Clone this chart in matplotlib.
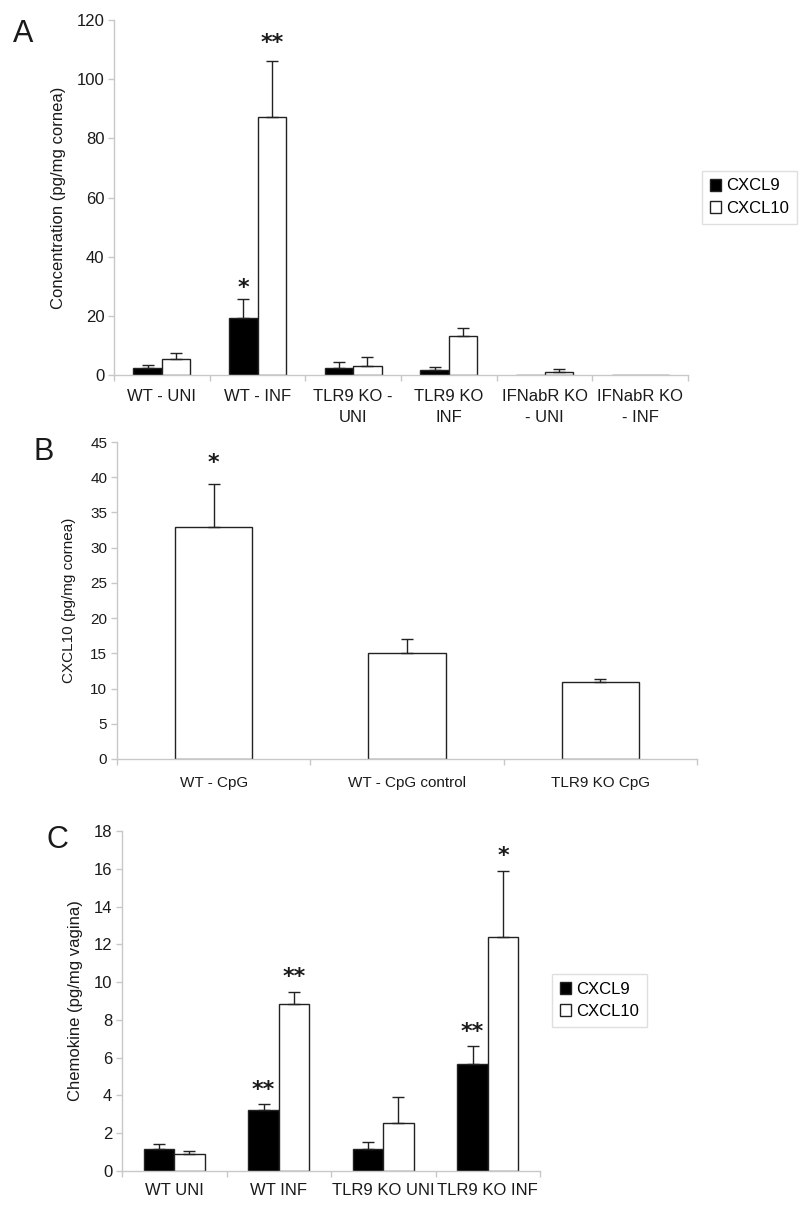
import matplotlib
matplotlib.use("Agg")
import matplotlib.pyplot as plt
import numpy as np
from matplotlib import font_manager

names = {f.name for f in font_manager.fontManager.ttflist}
MAIN = 'Liberation Sans' if 'Liberation Sans' in names else 'DejaVu Sans'
NARROW = 'Liberation Sans Narrow' if 'Liberation Sans Narrow' in names else MAIN
plt.rcParams['font.family'] = [MAIN, 'DejaVu Sans']

# ---------------- data ----------------
a_categories = ["WT - UNI", "WT - INF", "TLR9 KO -\nUNI", "TLR9 KO\nINF", "IFNabR KO\n- UNI", "IFNabR KO\n- INF"]
a_cxcl9 = [2.2, 19.2, 2.5, 1.7, 0.0, 0.0]
a_cxcl9_err = [1.2, 6.4, 1.8, 1.1, 0.0, 0.0]
a_cxcl10 = [5.4, 87.3, 3.0, 13.2, 0.9, 0.0]
a_cxcl10_err = [2.1, 18.8, 3.2, 2.8, 1.1, 0.0]
a_stars9 = ["", "*", "", "", "", ""]
a_stars10 = ["", "**", "", "", "", ""]
a_yticks = [0, 20, 40, 60, 80, 100, 120]

b_categories = ["WT - CpG", "WT - CpG control", "TLR9 KO CpG"]
b_cxcl10 = [33.0, 15.0, 11.0]
b_cxcl10_err = [6.0, 2.0, 0.4]
b_stars = ["*", "", ""]
b_yticks = [0, 5, 10, 15, 20, 25, 30, 35, 40, 45]

c_categories = ["WT UNI", "WT INF", "TLR9 KO UNI", "TLR9 KO INF"]
c_cxcl9 = [1.16, 3.23, 1.16, 5.65]
c_cxcl9_err = [0.25, 0.30, 0.36, 0.98]
c_cxcl10 = [0.88, 8.82, 2.52, 12.4]
c_cxcl10_err = [0.18, 0.68, 1.41, 3.5]
c_stars9 = ["", "**", "", "**"]
c_stars10 = ["", "**", "", "*"]
c_yticks = [0, 2, 4, 6, 8, 10, 12, 14, 16, 18]

series_names = ["CXCL9", "CXCL10"]

W, H = 800, 1211
fig = plt.figure(figsize=(W / 100, H / 100), dpi=100)

AXC = '#c8c8c8'
EDGE = '#222222'
TXT = '#1a1a1a'


def ax_rect(l, r, t, b):
    return [l / W, 1 - b / H, (r - l) / W, (b - t) / H]


def style_axes(ax, n, yticks, fs, family):
    for s in ['top', 'right']:
        ax.spines[s].set_visible(False)
    for s in ['left', 'bottom']:
        ax.spines[s].set_color(AXC)
        ax.spines[s].set_linewidth(1.0)
    ax.set_xlim(-0.5, n - 0.5)
    ax.set_ylim(yticks[0], yticks[-1])
    ax.set_yticks(yticks)
    ax.set_yticklabels([str(v) for v in yticks], fontsize=fs, color=TXT, family=family)
    ax.tick_params(axis='y', length=4, color=AXC, width=1, pad=3)
    ax.set_xticks(np.arange(n + 1) - 0.5, minor=False)
    ax.set_xticklabels([''] * (n + 1))
    ax.tick_params(axis='x', length=4, color=AXC, width=1)


def star(ax, x, y, s, fs, dy=3):
    if s:
        ax.annotate(s, (x, y), xytext=(0, dy), textcoords='offset points',
                    ha='center', va='bottom', fontsize=fs, color=TXT,
                    family='DejaVu Sans', weight='bold')


def err(ax, x, v, e, capw):
    if e > 0:
        ax.errorbar([x], [v], yerr=[[0], [e]], fmt='none', ecolor=EDGE,
                    elinewidth=1, capsize=capw, capthick=1)


# ---------------- Panel A ----------------
axA = fig.add_axes(ax_rect(114, 688, 20, 375))
nA = len(a_categories)
xA = np.arange(nA)
bw = 0.297
style_axes(axA, nA, a_yticks, 12, MAIN)
axA.bar(xA - bw / 2, a_cxcl9, bw, color='black', edgecolor=EDGE, linewidth=1, label=series_names[0], zorder=2)
axA.bar(xA + bw / 2, a_cxcl10, bw, color='white', edgecolor=EDGE, linewidth=1, label=series_names[1], zorder=2)
for i in range(nA):
    err(axA, xA[i] - bw / 2, a_cxcl9[i], a_cxcl9_err[i], 4)
    err(axA, xA[i] + bw / 2, a_cxcl10[i], a_cxcl10_err[i], 4)
    star(axA, xA[i] - bw / 2, a_cxcl9[i] + a_cxcl9_err[i], a_stars9[i], 16, 1)
    star(axA, xA[i] + bw / 2, a_cxcl10[i] + a_cxcl10_err[i], a_stars10[i], 16, 6)
for i, lab in enumerate(a_categories):
    axA.text(xA[i], -0.04, lab, transform=axA.get_xaxis_transform(), ha='center', va='top',
             fontsize=12, color=TXT, linespacing=1.45)
axA.set_ylabel("Concentration (pg/mg cornea)", fontsize=12, color=TXT)
axA.yaxis.set_label_coords(-0.083, 0.50)
legA = fig.legend(*axA.get_legend_handles_labels(), loc='upper left',
                  bbox_to_anchor=(702 / W, 1 - 171 / H), fontsize=12, frameon=True,
                  fancybox=False, edgecolor='#d8d8d8', handlelength=0.7, handleheight=0.7,
                  handletextpad=0.3, borderpad=0.45, labelspacing=0.45, borderaxespad=0)
legA.get_frame().set_linewidth(1)
fig.text(23 / W, 1 - 34 / H, "A", fontsize=22, ha='center', va='center', color=TXT)

# ---------------- Panel B ----------------
axB = fig.add_axes(ax_rect(117, 697, 442, 759))
nB = len(b_categories)
xB = np.arange(nB)
style_axes(axB, nB, b_yticks, 11, NARROW)
axB.bar(xB, b_cxcl10, 0.4, color='white', edgecolor=EDGE, linewidth=1, zorder=2)
for i in range(nB):
    err(axB, xB[i], b_cxcl10[i], b_cxcl10_err[i], 4)
    star(axB, xB[i], b_cxcl10[i] + b_cxcl10_err[i], b_stars[i], 16, 8)
for i, lab in enumerate(b_categories):
    axB.text(xB[i], -0.055, lab, transform=axB.get_xaxis_transform(), ha='center', va='top',
             fontsize=11, color=TXT, family=NARROW)
axB.set_ylabel("CXCL10 (pg/mg cornea)", fontsize=11, color=TXT, family=NARROW)
axB.yaxis.set_label_coords(-0.07, 0.50)
fig.text(44 / W, 1 - 452 / H, "B", fontsize=22, ha='center', va='center', color=TXT)

# ---------------- Panel C ----------------
axC = fig.add_axes(ax_rect(122, 540, 831, 1171))
nC = len(c_categories)
xC = np.arange(nC)
bwc = 0.29
style_axes(axC, nC, c_yticks, 12, MAIN)
axC.bar(xC - bwc / 2, c_cxcl9, bwc, color='black', edgecolor=EDGE, linewidth=1, label=series_names[0], zorder=2)
axC.bar(xC + bwc / 2, c_cxcl10, bwc, color='white', edgecolor=EDGE, linewidth=1, label=series_names[1], zorder=2)
for i in range(nC):
    err(axC, xC[i] - bwc / 2, c_cxcl9[i], c_cxcl9_err[i], 4)
    err(axC, xC[i] + bwc / 2, c_cxcl10[i], c_cxcl10_err[i], 4)
    star(axC, xC[i] - bwc / 2, c_cxcl9[i] + c_cxcl9_err[i], c_stars9[i], 16, 3)
    star(axC, xC[i] + bwc / 2, c_cxcl10[i] + c_cxcl10_err[i], c_stars10[i], 16, 3)
for i, lab in enumerate(c_categories):
    axC.text(xC[i], -0.035, lab, transform=axC.get_xaxis_transform(), ha='center', va='top',
             fontsize=12, color=TXT)
axC.set_ylabel("Chemokine (pg/mg vagina)", fontsize=12, color=TXT)
axC.yaxis.set_label_coords(-0.093, 0.50)
legC = fig.legend(*axC.get_legend_handles_labels(), loc='upper left',
                  bbox_to_anchor=(552 / W, 1 - 974 / H), fontsize=12, frameon=True,
                  fancybox=False, edgecolor='#d8d8d8', handlelength=0.7, handleheight=0.7,
                  handletextpad=0.3, borderpad=0.45, labelspacing=0.45, borderaxespad=0)
legC.get_frame().set_linewidth(1)
fig.text(57 / W, 1 - 840 / H, "C", fontsize=22, ha='center', va='center', color=TXT)

fig.savefig("out.png", dpi=100, facecolor='white')
